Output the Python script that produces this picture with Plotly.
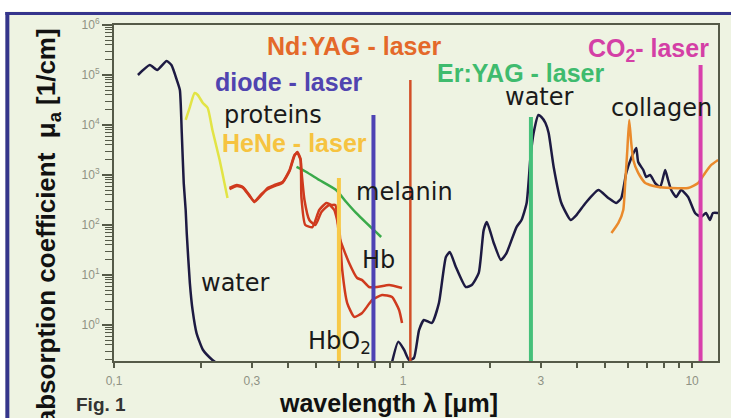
import plotly.graph_objects as go

# ---------------- data ----------------
water_uv_wl = [0.121, 0.133, 0.141, 0.152, 0.158, 0.165, 0.169, 0.1716, 0.1743, 0.177,
               0.1785, 0.183, 0.187, 0.193, 0.203, 0.219, 0.235]
water_uv_mu = [1.0e5, 1.58e5, 1.26e5, 1.9e5, 1.58e5, 7.9e4, 5.0e4, 6900, 690, 200,
               69, 6.9, 2.0, 0.69, 0.32, 0.2, 0.15]

water_ir_wl = [0.916, 0.962, 1.008, 1.049, 1.091, 1.136, 1.181, 1.259, 1.331, 1.407,
               1.452, 1.523, 1.648, 1.729, 1.828, 1.901, 1.95, 2.06, 2.18, 2.28,
               2.47, 2.57, 2.677, 2.76, 2.83, 2.94, 3.01, 3.11, 3.19, 3.32,
               3.53, 3.80, 3.98, 4.28, 4.74, 5.13, 5.47, 5.69, 5.92, 6.16,
               6.41, 6.51, 6.78, 6.94, 7.16, 7.45, 7.76, 8.07, 8.26, 8.47,
               8.81, 9.16, 9.69, 10.24, 10.74, 11.17, 11.53, 11.81, 12.3]
water_ir_mu = [0.18, 0.46, 0.32, 0.2, 0.22, 0.79, 1.26, 1.1, 2.75, 22.9,
               28.8, 14.5, 5.75, 6.3, 11, 79, 115, 43.7, 20, 27.5,
               91, 126, 275, 2290, 6900, 15850, 14450, 11000, 6900, 1450,
               275, 126, 158, 275, 500, 347, 275, 347, 1100, 2190,
               3470, 1820, 1260, 912, 1000, 690, 575, 1260, 794, 500,
               363, 500, 363, 174, 145, 174, 126, 174, 174]

protein_wl = [0.177, 0.183, 0.190, 0.195, 0.203, 0.211, 0.219, 0.232, 0.241, 0.247]
protein_mu = [12600, 22900, 43600, 39800, 27500, 21900, 7940, 2000, 690, 347]

hb_wl = [0.251, 0.266, 0.279, 0.294, 0.306, 0.324, 0.340, 0.359, 0.383, 0.405, 0.421, 0.431, 0.442,
         0.445, 0.459, 0.486, 0.513, 0.543, 0.565, 0.583, 0.602, 0.651, 0.694, 0.722, 0.763, 0.813, 0.895, 0.992]
hb_mu = [550, 631, 575, 398, 288, 398, 550, 631, 724, 1260, 2510, 2750, 2000,
         363, 100, 91, 200, 275, 251, 251, 57.5, 17.4, 8.7, 7.9, 5.75, 5.75, 6.3, 5.5]

hbo2_wl = [0.251, 0.266, 0.279, 0.294, 0.306, 0.324, 0.340, 0.359, 0.383, 0.405, 0.421, 0.431, 0.442,
           0.445, 0.456, 0.474, 0.497, 0.522, 0.556, 0.578, 0.602, 0.616, 0.641, 0.678, 0.722, 0.782,
           0.846, 0.916, 0.969, 0.992]
hbo2_mu = [520, 600, 560, 380, 300, 420, 520, 600, 700, 1200, 2400, 2900, 2100,
           1260, 316, 126, 100, 182, 251, 200, 79, 12.6, 2.75, 1.45, 1.74, 3.16,
           3.98, 3.63, 2.0, 1.1]

melanin_wl = [0.428, 0.463, 0.513, 0.587, 0.636, 0.688, 0.746, 0.807, 0.840]
melanin_mu = [1450, 1150, 794, 500, 288, 174, 110, 72, 57.5]

collagen_wl = [5.26, 5.56, 5.78, 5.87, 5.97, 6.06, 6.16, 6.26, 6.51, 6.89, 7.64, 8.47,
               9.69, 10.5, 11.09, 11.63, 12.3]
collagen_mu = [69, 110, 200, 690, 3160, 12600, 4370, 2000, 1100, 690, 575, 550,
               550, 690, 1100, 1580, 2000]

laser_names = ["HeNe", "diode", "Nd:YAG", "Er:YAG", "CO2"]
laser_wl = [0.60, 0.79, 1.06, 2.77, 10.7]
laser_top = [870, 15850, 79400, 14450, 158000]

x_tick_vals = [0.1, 0.2, 0.3, 0.4, 0.5, 0.6, 0.7, 0.8, 0.9, 1, 2, 3, 4, 5, 6, 7, 8, 9, 10]
x_tick_text = ["0,1", "", "0,3", "", "", "", "", "", "", "1", "", "3", "", "", "", "", "", "", "10"]
y_tick_vals = [1, 10, 100, 1e3, 1e4, 1e5, 1e6]
y_tick_text = ["10<sup>0</sup>", "10<sup>1</sup>", "10<sup>2</sup>", "10<sup>3</sup>",
               "10<sup>4</sup>", "10<sup>5</sup>", "10<sup>6</sup>"]
y_minor_vals = [m * 10 ** e for e in range(-1, 6) for m in range(2, 10)]

# ---------------- styles ----------------
BG = "#eef3e2"
AX = "#555a48"
Y_RANGE = [-0.72, 6]
X_RANGE = [-1, 1.0897]

laser_colors = ["#f7c948", "#4d42b4", "#d24f28", "#45c07a", "#d840ac"]
laser_widths = [4, 4, 2.5, 4, 4]

fig = go.Figure()

def curve(x, y, color, width=2.5):
    fig.add_trace(go.Scatter(x=x, y=y, mode="lines",
                             line=dict(color=color, width=width, shape="spline", smoothing=0.5),
                             hoverinfo="skip"))

curve(water_uv_wl, water_uv_mu, "#1d1a42")
curve(water_ir_wl, water_ir_mu, "#1d1a42")
curve(protein_wl, protein_mu, "#e2e445")
curve(melanin_wl, melanin_mu, "#3aaa4a")
curve(hb_wl, hb_mu, "#cf3a1e")
curve(hbo2_wl, hbo2_mu, "#cf3a1e")
curve(collagen_wl, collagen_mu, "#ea8a2c")

ybot = 10 ** Y_RANGE[0]
for w, top, c, lw in zip(laser_wl, laser_top, laser_colors, laser_widths):
    fig.add_trace(go.Scatter(x=[w, w], y=[ybot, top], mode="lines",
                             line=dict(color=c, width=lw), hoverinfo="skip"))

def px(x):
    return (x - 114) / 606

def py(y):
    return (361 - y) / 336

NORMAL = dict(family="DejaVu Sans", size=24, color="#1a1a1a")

def bold(size, color):
    return dict(family="Liberation Sans", size=size, color=color)

labels = [
    ("<b>Nd:YAG - laser</b>", 355, 46, bold(25, "#e4692a")),
    ("<b>diode - laser</b>", 290, 82, bold(25, "#5044b0")),
    ("proteins", 274, 115, NORMAL),
    ("<b>HeNe - laser</b>", 295, 143, bold(25, "#f6c340")),
    ("melanin", 405, 192, NORMAL),
    ("<b>Er:YAG - laser</b>", 522, 73, bold(25, "#3fbb6e")),
    ("<b>CO<sub>2</sub>- laser</b>", 650, 50, bold(25, "#d43fa6")),
    ("water", 541, 97, NORMAL),
    ("collagen", 663, 108, NORMAL),
    ("water", 236, 283, NORMAL),
    ("Hb", 379, 260, NORMAL),
    ("HbO<sub>2</sub>", 340, 342, NORMAL),
]
for txt, x, y, f in labels:
    fig.add_annotation(text=txt, x=px(x), y=py(y), xref="paper", yref="paper",
                       showarrow=False, xanchor="center", yanchor="middle", font=f)

# axis titles and figure label
fig.add_annotation(text="<b>absorption coefficient  μ<sub>a</sub> [1/cm]</b>", x=px(47), y=py(226),
                   xref="paper", yref="paper", showarrow=False, textangle=-90,
                   xanchor="center", yanchor="middle", font=bold(26, "#111111"))
fig.add_annotation(text="<b>wavelength λ [μm]</b>", x=px(389), y=py(403),
                   xref="paper", yref="paper", showarrow=False,
                   xanchor="center", yanchor="middle", font=bold(25, "#111111"))
fig.add_annotation(text="<b>Fig. 1</b>", x=px(101), y=py(404),
                   xref="paper", yref="paper", showarrow=False,
                   xanchor="center", yanchor="middle",
                   font=dict(family="Liberation Sans Narrow, Liberation Sans", size=19, color="#333333"))

# frame: white strips and blue border on top / left
fig.add_shape(type="rect", xref="paper", yref="paper", x0=px(-5), x1=px(740), y0=py(11.5), y1=py(-5),
              fillcolor="white", line=dict(width=0), layer="below")
fig.add_shape(type="rect", xref="paper", yref="paper", x0=px(-5), x1=px(5), y0=py(430), y1=py(-5),
              fillcolor="white", line=dict(width=0), layer="below")
fig.add_shape(type="line", xref="paper", yref="paper", x0=px(5), x1=px(740), y0=py(13.5), y1=py(13.5),
              line=dict(color="#35358c", width=3))
fig.add_shape(type="line", xref="paper", yref="paper", x0=px(7), x1=px(7), y0=py(430), y1=py(12),
              line=dict(color="#35358c", width=4))

fig.update_layout(
    width=731, height=418,
    margin=dict(l=114, r=11, t=25, b=57),
    paper_bgcolor=BG, plot_bgcolor=BG,
    showlegend=False,
    xaxis=dict(type="log", range=X_RANGE, tickmode="array", tickvals=x_tick_vals, ticktext=x_tick_text,
               ticks="outside", ticklen=5, tickwidth=1.5, tickcolor=AX,
               showline=True, linecolor=AX, linewidth=2, mirror=True,
               showgrid=False, zeroline=False, ticklabelstandoff=3,
               tickfont=dict(family="Liberation Sans", size=12, color="#8e9284")),
    yaxis=dict(type="log", range=Y_RANGE, tickmode="array", tickvals=y_tick_vals, ticktext=y_tick_text,
               ticks="outside", ticklen=10, tickwidth=1.5, tickcolor=AX,
               minor=dict(tickmode="array", tickvals=y_minor_vals, ticks="outside", ticklen=7,
                          tickwidth=1, tickcolor=AX, showgrid=False),
               showline=True, linecolor=AX, linewidth=2, mirror=True,
               showgrid=False, zeroline=False,
               tickfont=dict(family="Liberation Sans", size=12, color="#8e9284")),
)

fig.write_html("out.html", config={"displayModeBar": False},
               post_script="document.body.style.margin='0';document.body.style.overflow='hidden';")
